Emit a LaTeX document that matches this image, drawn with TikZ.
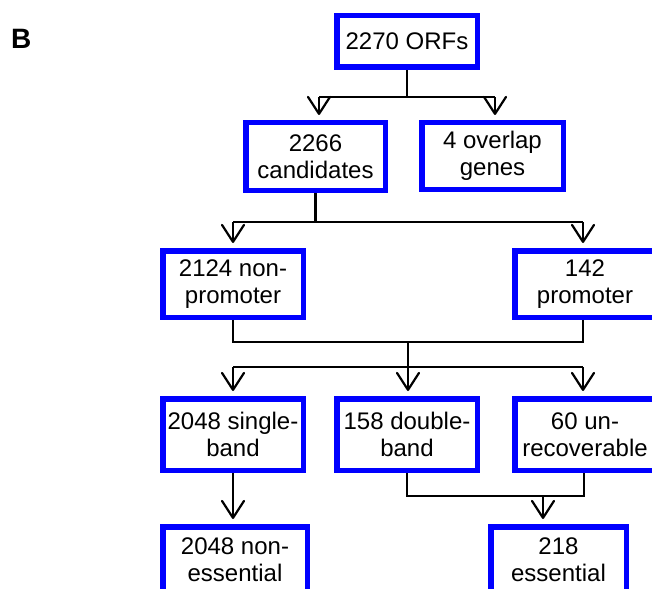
\documentclass[tikz,border=0pt]{standalone}
\usepackage{fontspec}
\setmainfont{Liberation Sans}
\usetikzlibrary{arrows.meta}
\begin{document}
\begin{tikzpicture}[x=1pt,y=-1pt,
  box/.style={draw=blue, line width=5.5pt, fill=white, align=center, inner sep=0pt,
    font=\fontsize{24}{27}\selectfont},
  link/.style={line width=2.2pt, black},
  arr/.style={link, -{Straight Barb[length=17pt,width=22pt,line width=2.2pt,round]}, shorten >=5pt}]
\useasboundingbox (0,0) rectangle (652,588);
\clip (0,0) rectangle (652,588);
\node[anchor=base west, inner sep=0pt, font=\fontsize{28}{30}\selectfont\bfseries] (lab) at (11,49) {B};
% boxes (outer size = minimum size + 5.5)
\node[box, minimum width=140.5pt, minimum height=51.5pt] (orf) at (407,41.5) {2270 ORFs};
\node[box, minimum width=139.5pt, minimum height=67.5pt] (cand) at (315.5,156.5) {2266\\candidates};
\node[box, minimum width=141.5pt, minimum height=66.5pt] (ovl) at (492.5,156) {4 overlap\\genes};
\node[box, minimum width=140.5pt, minimum height=66.5pt] (nonp) at (233,284) {2124 non-\\promoter};
\node[box, minimum width=140.5pt, minimum height=66.5pt] (prom) at (585,284) {142\\promoter};
\node[box, minimum width=140.5pt, minimum height=71.5pt] (sing) at (233,434.5) {2048 single-\\band};
\node[box, minimum width=140.5pt, minimum height=71.5pt] (doub) at (407,434.5) {158 double-\\band};
\node[box, minimum width=140.5pt, minimum height=71.5pt] (unrec) at (585,434.5) {60 un-\\recoverable};
\node[box, minimum width=144.5pt, minimum height=66.5pt] (noness) at (235,560) {2048 non-\\essential};
\node[box, minimum width=135.5pt, minimum height=66.5pt] (ess) at (558.5,560) {218\\essential};
% junction coordinates
\coordinate (j1) at (407,97);
\coordinate (j1l) at (319,97);
\coordinate (j1r) at (495,97);
\coordinate (j2) at (315.5,222);
\coordinate (j2l) at (233,222);
\coordinate (j2r) at (583,222);
\coordinate (j3l) at (233,342);
\coordinate (j3r) at (583,342);
\coordinate (j3m) at (408,342);
\coordinate (j4m) at (408,367);
\coordinate (j4l) at (233,367);
\coordinate (j4r) at (583,367);
\coordinate (j5l) at (407,496);
\coordinate (j5r) at (584,496);
\coordinate (j5m) at (543,496);
% connectors
\draw[link] (orf) -- (j1);
\draw[link] (j1l) -- (j1r);
\draw[arr] (j1l) -- (j1l |- cand.north);
\draw[arr] (j1r) -- (j1r |- ovl.north);
\draw[link] (cand) -- (j2);
\draw[link] (j2l) -- (j2r);
\draw[arr] (j2l) -- (j2l |- nonp.north);
\draw[arr] (j2r) -- (j2r |- prom.north);
\draw[link] (nonp) -- (j3l) -- (j3r) -- (j3r |- prom.south);
\draw[link] (j3m) -- (j4m);
\draw[link] (j4l) -- (j4r);
\draw[arr] (j4l) -- (j4l |- sing.north);
\draw[arr] (j4m) -- (j4m |- doub.north);
\draw[arr] (j4r) -- (j4r |- unrec.north);
\draw[arr] (sing.south -| nonp) -- (nonp |- noness.north);
\draw[link] (doub) -- (j5l) -- (j5r) -- (j5r |- unrec.south);
\draw[arr] (j5m) -- (j5m |- ess.north);
\end{tikzpicture}
\end{document}
